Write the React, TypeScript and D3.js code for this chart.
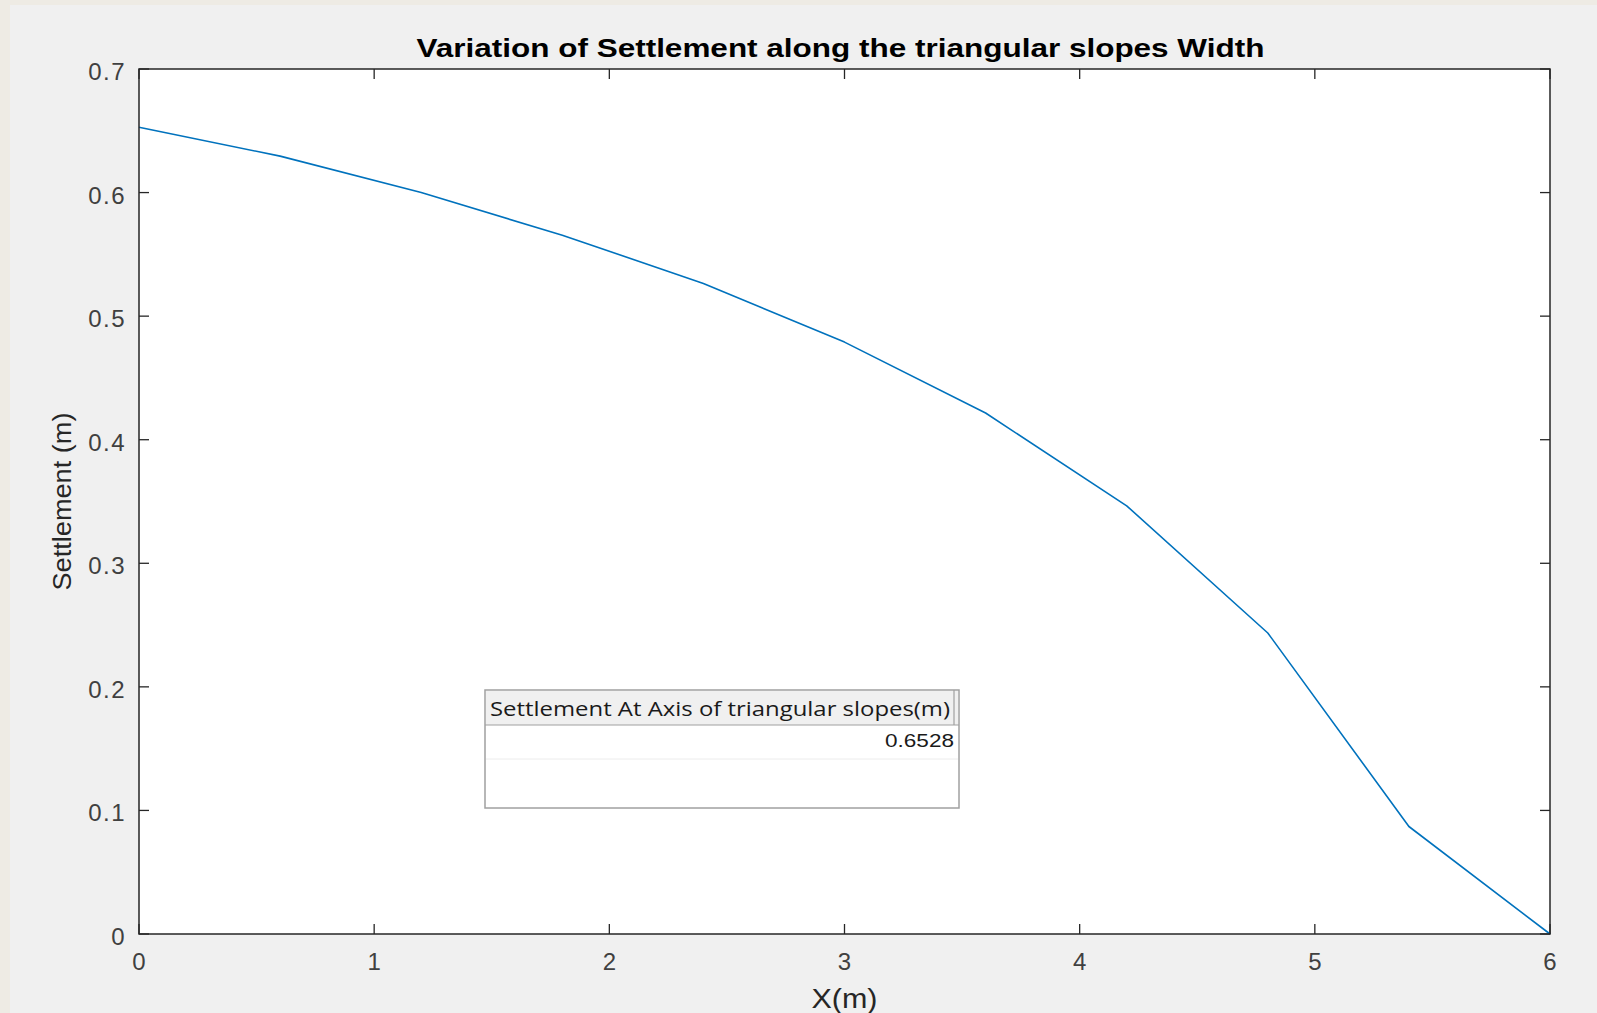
// @ts-nocheck
import React, { useEffect, useRef } from "react";
import * as d3 from "d3";

// distance along the slope width (m)
const xValues = [0, 0.6, 1.2, 1.8, 2.4, 3.0, 3.6, 4.2, 4.8, 5.4, 6.0];
// settlement (m)
const settlement = [0.6528, 0.6295, 0.6, 0.5655, 0.5265, 0.479, 0.4216, 0.3465, 0.2436, 0.087, 0];
const xTicks = [0, 1, 2, 3, 4, 5, 6];
const yTicks = [0, 0.1, 0.2, 0.3, 0.4, 0.5, 0.6, 0.7];
const tableHeader = "Settlement At Axis of triangular slopes(m)";
const tableValues = ["0.6528"];

const App = () => {
  const svgRef = useRef();

  useEffect(() => {
    const svg = d3.select(svgRef.current);
    svg.selectAll("*").remove();

    const width = 1597,
      height = 1013,
      margin = { top: 69, right: 47, bottom: 79, left: 139 };
    const font = "'Liberation Sans', Arial, sans-serif";
    const axisColor = "#262626";
    const tickLen = 10;

    // figure background
    svg.append("rect").attr("width", width).attr("height", height).attr("fill", "#f0f0f0");
    svg.append("rect").attr("width", 10).attr("height", height).attr("fill", "#eeebe4");
    svg.append("rect").attr("width", width).attr("height", 5).attr("fill", "#eeebe4");

    const x = d3
      .scaleLinear()
      .domain([0, 6])
      .range([margin.left, width - margin.right]);
    const y = d3
      .scaleLinear()
      .domain([0, 0.7])
      .range([height - margin.bottom, margin.top]);

    // plot box
    svg
      .append("rect")
      .attr("x", x(0))
      .attr("y", y(0.7))
      .attr("width", x(6) - x(0))
      .attr("height", y(0) - y(0.7))
      .attr("fill", "#ffffff");

    // ticks on all four sides, pointing in
    const ticks = svg.append("g").attr("stroke", axisColor).attr("stroke-width", 1.3);
    xTicks.forEach(t => {
      ticks.append("line").attr("x1", x(t)).attr("x2", x(t)).attr("y1", y(0)).attr("y2", y(0) - tickLen);
      ticks.append("line").attr("x1", x(t)).attr("x2", x(t)).attr("y1", y(0.7)).attr("y2", y(0.7) + tickLen);
    });
    yTicks.forEach(t => {
      ticks.append("line").attr("x1", x(0)).attr("x2", x(0) + tickLen).attr("y1", y(t)).attr("y2", y(t));
      ticks.append("line").attr("x1", x(6)).attr("x2", x(6) - tickLen).attr("y1", y(t)).attr("y2", y(t));
    });

    // tick labels
    svg
      .append("g")
      .selectAll("text")
      .data(xTicks)
      .join("text")
      .attr("x", d => x(d))
      .attr("y", y(0) + 36)
      .attr("text-anchor", "middle")
      .attr("font-family", font)
      .attr("font-size", 24)
      .attr("fill", "#404040")
      .text(d => d3.format("")(d));

    svg
      .append("g")
      .selectAll("text")
      .data(yTicks)
      .join("text")
      .attr("x", x(0) - 13)
      .attr("y", d => y(d) + 11)
      .attr("text-anchor", "end")
      .attr("font-family", font)
      .attr("font-size", 24)
      .attr("letter-spacing", 1.5)
      .attr("fill", "#404040")
      .text(d => (d === 0 ? "0" : d3.format(".1f")(d)));

    // settlement curve
    const data = xValues.map((v, i) => ({ x: v, y: settlement[i] }));
    const line = d3
      .line()
      .x(d => x(d.x))
      .y(d => y(d.y));
    svg
      .append("path")
      .datum(data)
      .attr("fill", "none")
      .attr("stroke", "#0072bd")
      .attr("stroke-width", 1.6)
      .attr("stroke-linejoin", "round")
      .attr("d", line);

    // box outline on top
    svg
      .append("rect")
      .attr("x", x(0))
      .attr("y", y(0.7))
      .attr("width", x(6) - x(0))
      .attr("height", y(0) - y(0.7))
      .attr("fill", "none")
      .attr("stroke", axisColor)
      .attr("stroke-width", 1.5);

    // title and axis labels
    svg
      .append("text")
      .attr("x", (x(0) + x(6)) / 2 - 4)
      .attr("y", 57)
      .attr("text-anchor", "middle")
      .attr("font-family", font)
      .attr("font-weight", "bold")
      .attr("font-size", 26)
      .attr("textLength", 848)
      .attr("lengthAdjust", "spacingAndGlyphs")
      .attr("fill", "#000")
      .text("Variation of Settlement along the triangular slopes Width");

    svg
      .append("text")
      .attr("x", (x(0) + x(6)) / 2)
      .attr("y", 1008)
      .attr("text-anchor", "middle")
      .attr("font-family", font)
      .attr("font-size", 27)
      .attr("textLength", 66)
      .attr("lengthAdjust", "spacingAndGlyphs")
      .attr("fill", "#262626")
      .text("X(m)");

    svg
      .append("text")
      .attr("transform", `translate(71,${(y(0) + y(0.7)) / 2}) rotate(-90)`)
      .attr("text-anchor", "middle")
      .attr("font-family", font)
      .attr("font-size", 26)
      .attr("textLength", 178)
      .attr("lengthAdjust", "spacingAndGlyphs")
      .attr("fill", "#262626")
      .text("Settlement (m)");

    // uitable overlay
    const tb = { x: 485, y: 690, w: 474, h: 118, head: 35, row: 34 };
    const table = svg.append("g");
    table
      .append("rect")
      .attr("x", tb.x)
      .attr("y", tb.y)
      .attr("width", tb.w)
      .attr("height", tb.h)
      .attr("fill", "#ffffff")
      .attr("stroke", "#a0a0a0")
      .attr("stroke-width", 1.5);
    table
      .append("rect")
      .attr("x", tb.x + 1)
      .attr("y", tb.y + 1)
      .attr("width", tb.w - 2)
      .attr("height", tb.head - 1)
      .attr("fill", "#f0f0f0");
    table
      .append("line")
      .attr("x1", tb.x)
      .attr("x2", tb.x + tb.w)
      .attr("y1", tb.y + tb.head)
      .attr("y2", tb.y + tb.head)
      .attr("stroke", "#a0a0a0")
      .attr("stroke-width", 1.2);
    table
      .append("line")
      .attr("x1", tb.x + tb.w - 5)
      .attr("x2", tb.x + tb.w - 5)
      .attr("y1", tb.y)
      .attr("y2", tb.y + tb.head)
      .attr("stroke", "#a0a0a0")
      .attr("stroke-width", 1.2);
    table
      .append("text")
      .attr("x", tb.x + 5)
      .attr("y", tb.y + 26)
      .attr("font-family", "'Open Sans', 'Noto Sans', sans-serif")
      .attr("font-size", 20)
      .attr("textLength", 460)
      .attr("lengthAdjust", "spacingAndGlyphs")
      .attr("fill", "#1a1a1a")
      .text(tableHeader);
    tableValues.forEach((v, i) => {
      const top = tb.y + tb.head + i * tb.row;
      table
        .append("line")
        .attr("x1", tb.x + 1)
        .attr("x2", tb.x + tb.w - 1)
        .attr("y1", top + tb.row)
        .attr("y2", top + tb.row)
        .attr("stroke", "#ececec")
        .attr("stroke-width", 1);
      table
        .append("text")
        .attr("x", tb.x + tb.w - 5)
        .attr("y", top + 22)
        .attr("text-anchor", "end")
        .attr("font-family", font)
        .attr("font-size", 19)
        .attr("textLength", 69)
        .attr("lengthAdjust", "spacingAndGlyphs")
        .attr("fill", "#1a1a1a")
        .text(v);
    });
  }, []);

  return (
    <svg
      ref={svgRef}
      width={1597}
      height={1013}
      style={{ position: "absolute", left: 0, top: 0, display: "block" }}
    ></svg>
  );
};

export default App;
